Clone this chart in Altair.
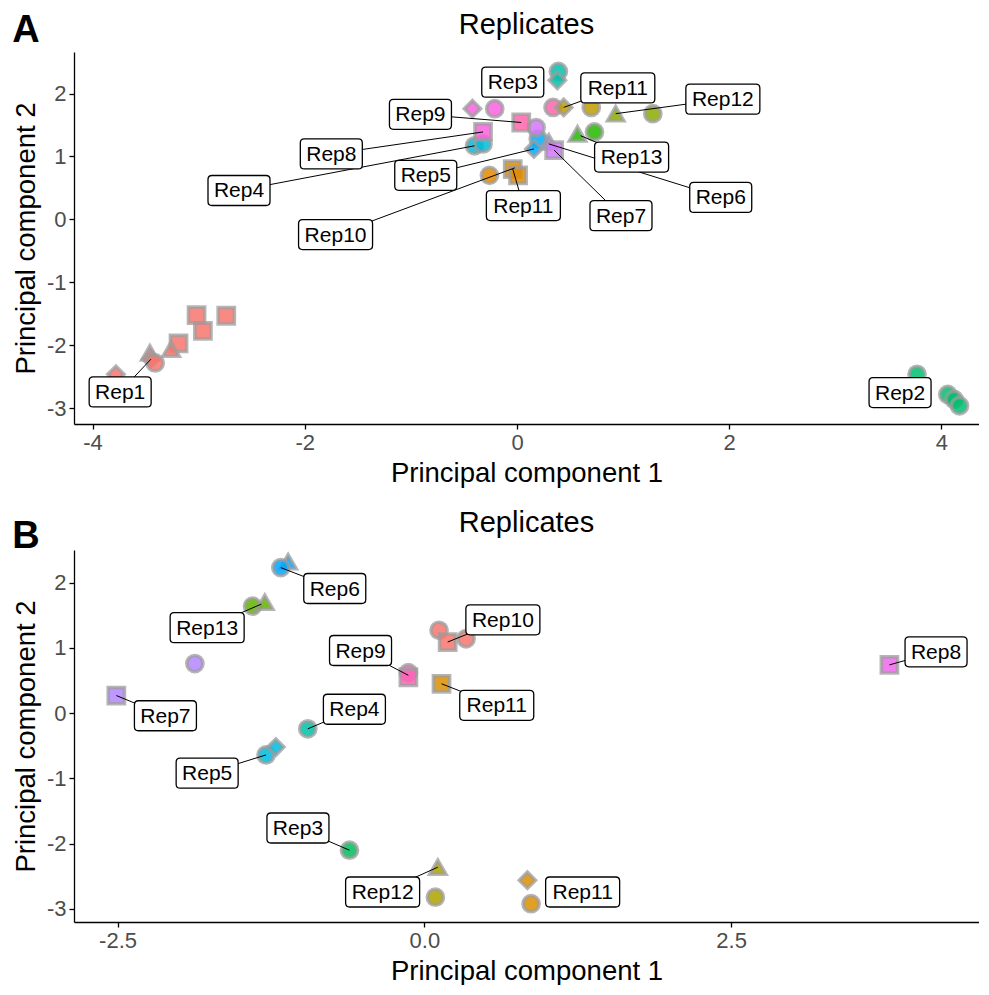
import altair as alt
import pandas as pd

FONT = "Liberation Sans"

# ---------------- Panel A data ----------------
a_rep = ["Rep1"] * 9 + ["Rep2"] * 4 + ["Rep3", "Rep3", "Rep4", "Rep4", "Rep5", "Rep5", "Rep6",
         "Rep7", "Rep7", "Rep8", "Rep8", "Rep8", "Rep9", "Rep9", "Rep10", "Rep10", "Rep10",
         "Rep11", "Rep11", "Rep12", "Rep12", "Rep13", "Rep13"]
a_shape = ["square", "square", "square", "square", "triangle-up", "triangle-up", "diamond", "circle", "diamond",
           "circle", "circle", "circle", "circle",
           "circle", "diamond", "circle", "circle", "circle", "diamond", "triangle-up",
           "circle", "square", "diamond", "circle", "square", "square", "circle", "circle", "square", "square",
           "diamond", "circle", "triangle-up", "circle", "triangle-up", "circle"]
a_x = [-3.02, -2.74, -2.96, -3.19, -3.26, -3.46, -3.45, -3.41, -3.78,
       3.77, 4.06, 4.12, 4.17,
       0.39, 0.38, -0.40, -0.32, 0.20, 0.16, 0.30,
       0.18, 0.35, -0.42, -0.21, -0.32, 0.04, 0.34, -0.26, -0.04, 0.01,
       0.44, 0.70, 0.93, 1.28, 0.57, 0.73]
a_y = [-1.52, -1.53, -1.77, -1.97, -2.06, -2.12, -2.22, -2.28, -2.46,
       -2.46, -2.78, -2.86, -2.96,
       2.35, 2.21, 1.17, 1.20, 1.28, 1.12, 1.23,
       1.46, 1.10, 1.76, 1.76, 1.39, 1.54, 1.78, 0.70, 0.80, 0.70,
       1.78, 1.78, 1.68, 1.68, 1.36, 1.39]

a_lab = ["Rep3", "Rep11", "Rep12", "Rep9", "Rep8", "Rep5", "Rep13", "Rep4",
         "Rep11", "Rep7", "Rep6", "Rep10", "Rep1", "Rep2"]
a_lab_x = [-0.04, 0.95, 1.94, -0.91, -1.75, -0.86, 1.08, -2.62, 0.06, 0.98, 1.92, -1.71, -3.74, 3.61]
a_lab_y = [2.18, 2.09, 1.91, 1.67, 1.04, 0.70, 0.99, 0.46, 0.22, 0.06, 0.35, -0.24, -2.74, -2.75]
a_tgt_x = [-0.04, 0.44, 0.93, 0.04, -0.32, 0.16, 0.60, -0.40, -0.04, 0.35, 0.30, -0.02, -3.45, 3.61]
a_tgt_y = [2.18, 1.78, 1.68, 1.54, 1.39, 1.12, 1.33, 1.17, 0.80, 1.10, 1.20, 0.82, -2.22, -2.75]

a_levels = ["Rep1", "Rep10", "Rep11", "Rep12", "Rep13", "Rep2", "Rep3",
            "Rep4", "Rep5", "Rep6", "Rep7", "Rep8", "Rep9"]
a_colors = ["#F8766D", "#E18A00", "#BE9C00", "#8CAB00", "#24B700", "#00BE70", "#00C1AB",
            "#00BBDA", "#00ACFC", "#8B93FF", "#D575FE", "#F962DD", "#FF65AC"]

# ---------------- Panel B data ----------------
b_rep = ["Rep10", "Rep10", "Rep10", "Rep11", "Rep11", "Rep11", "Rep12", "Rep12",
         "Rep13", "Rep13", "Rep3", "Rep4", "Rep5", "Rep5", "Rep6", "Rep6",
         "Rep7", "Rep7", "Rep8", "Rep9", "Rep9"]
b_shape = ["circle", "circle", "square", "square", "diamond", "circle", "triangle-up", "circle",
           "circle", "triangle-up", "circle", "circle", "circle", "diamond", "triangle-up", "circle",
           "circle", "square", "square", "circle", "square"]
b_x = [0.12, 0.34, 0.19, 0.14, 0.84, 0.87, 0.11, 0.09,
       -1.40, -1.30, -0.61, -0.95, -1.29, -1.21, -1.11, -1.17,
       -1.87, -2.51, 3.79, -0.13, -0.13]
b_y = [1.27, 1.14, 1.09, 0.45, -2.56, -2.92, -2.36, -2.82,
       1.64, 1.70, -2.10, -0.24, -0.64, -0.52, 2.32, 2.23,
       0.76, 0.27, 0.74, 0.62, 0.55]

b_lab = ["Rep6", "Rep13", "Rep10", "Rep9", "Rep7", "Rep4", "Rep11", "Rep8",
         "Rep5", "Rep3", "Rep12", "Rep11"]
b_lab_x = [-0.73, -1.77, 0.64, -0.52, -2.11, -0.57, 0.59, 4.17, -1.77, -1.03, -0.34, 1.29]
b_lab_y = [1.91, 1.31, 1.43, 0.96, -0.04, 0.06, 0.12, 0.94, -0.92, -1.76, -2.74, -2.74]
b_tgt_x = [-1.17, -1.33, 0.19, -0.13, -2.51, -0.95, 0.14, 3.79, -1.29, -0.61, 0.11, 1.29]
b_tgt_y = [2.23, 1.67, 1.09, 0.58, 0.27, -0.24, 0.45, 0.74, -0.64, -2.10, -2.36, -2.74]

b_levels = ["Rep10", "Rep11", "Rep12", "Rep13", "Rep3", "Rep4",
            "Rep5", "Rep6", "Rep7", "Rep8", "Rep9"]
b_colors = ["#F8766D", "#DB8E00", "#AEA200", "#64B200", "#00BD5C", "#00C1A7",
            "#00BADE", "#00A6FF", "#B385FF", "#EF67EB", "#FF63B6"]

y_ticks = [-3, -2, -1, 0, 1, 2]
panel_title = "Replicates"

# rounded label boxes (custom symbol paths, drawn at size 4 => 1 unit = 1 px)
BOX4 = ("M-27,-15 L27,-15 Q31,-15 31,-11 L31,11 Q31,15 27,15 L-27,15 "
        "Q-31,15 -31,11 L-31,-11 Q-31,-15 -27,-15 Z")
BOX5 = ("M-33,-15 L33,-15 Q37,-15 37,-11 L37,11 Q37,15 33,15 L-33,15 "
        "Q-37,15 -37,11 L-37,-11 Q-37,-15 -33,-15 Z")

MINUS = "\u2212"
W, H = 905, 372


def panel(rep, shape, xs_, ys_, lab, lx, ly, tx, ty, levels, colors,
          xdom, ydom, xticks, xfmt, letter, letter_y):
    pts = pd.DataFrame({"rep": rep, "shape": shape, "x": xs_, "y": ys_})
    labs = pd.DataFrame({"label": lab, "lx": lx, "ly": ly, "tx": tx, "ty": ty})
    xsc = alt.Scale(domain=xdom, nice=False, zero=False)
    ysc = alt.Scale(domain=ydom, nice=False, zero=False)
    xax = alt.Axis(values=xticks, title="Principal component 1",
                   labelExpr=f"replace(format(datum.value, '{xfmt}'), '{MINUS}', '-')")
    yax = alt.Axis(values=y_ticks, title="Principal component 2",
                   labelExpr=f"replace(format(datum.value, 'd'), '{MINUS}', '-')")

    points = alt.Chart(pts).mark_point(
        filled=True, size=265, fillOpacity=0.85, stroke="#9c9c9c",
        strokeWidth=3.5, strokeOpacity=0.75, opacity=1
    ).encode(
        x=alt.X("x:Q", scale=xsc, axis=xax),
        y=alt.Y("y:Q", scale=ysc, axis=yax),
        fill=alt.Fill("rep:N", scale=alt.Scale(domain=levels, range=colors), legend=None),
        shape=alt.Shape("shape:N", scale=None),
    )
    lines = alt.Chart(labs).mark_rule(color="black", strokeWidth=1).encode(
        x=alt.X("tx:Q", scale=xsc, axis=xax),
        y=alt.Y("ty:Q", scale=ysc, axis=yax),
        x2="lx:Q", y2="ly:Q",
    )
    box4 = alt.Chart(labs).transform_filter("length(datum.label) <= 4").mark_point(
        shape=BOX4, size=4, filled=True, fill="white", fillOpacity=1,
        stroke="black", strokeWidth=1.3, opacity=1
    ).encode(x=alt.X("lx:Q", scale=xsc, axis=xax), y=alt.Y("ly:Q", scale=ysc, axis=yax))
    box5 = alt.Chart(labs).transform_filter("length(datum.label) > 4").mark_point(
        shape=BOX5, size=4, filled=True, fill="white", fillOpacity=1,
        stroke="black", strokeWidth=1.3, opacity=1
    ).encode(x=alt.X("lx:Q", scale=xsc, axis=xax), y=alt.Y("ly:Q", scale=ysc, axis=yax))
    texts = alt.Chart(labs).mark_text(
        font=FONT, fontSize=21, color="black", align="center", baseline="middle", dy=1
    ).encode(x=alt.X("lx:Q", scale=xsc, axis=xax), y=alt.Y("ly:Q", scale=ysc, axis=yax),
             text="label:N")
    let = alt.Chart(pd.DataFrame({"t": [letter]})).mark_text(
        font=FONT, fontSize=38, fontWeight="bold", color="black",
        align="center", baseline="middle"
    ).encode(x=alt.value(-48), y=alt.value(letter_y), text="t:N")
    ttl = alt.Chart(pd.DataFrame({"t": [panel_title]})).mark_text(
        font=FONT, fontSize=29, color="black", align="center", baseline="middle"
    ).encode(x=alt.value(W / 2), y=alt.value(-27), text="t:N")

    return alt.layer(points, lines, box4, box5, texts, let, ttl).properties(width=W, height=H)


pa = panel(a_rep, a_shape, a_x, a_y, a_lab, a_lab_x, a_lab_y, a_tgt_x, a_tgt_y,
           a_levels, a_colors, [-4.175, 4.354], [-3.25, 2.66], [-4, -2, 0, 2, 4], "d", "A", -21)
pb = panel(b_rep, b_shape, b_x, b_y, b_lab, b_lab_x, b_lab_y, b_tgt_x, b_tgt_y,
           b_levels, b_colors, [-2.855, 4.52], [-3.20, 2.50], [-2.5, 0, 2.5], ".1f", "B", -13)

chart = alt.vconcat(pa, pb, spacing=22).resolve_scale(
    x="independent", y="independent", fill="independent"
).properties(
    padding={"left": 4, "top": 3, "right": 0, "bottom": 0}
).configure_view(stroke=None).configure_axis(
    grid=False, domainColor="black", domainWidth=1.3, tickColor="black", tickWidth=1.3,
    tickSize=5, labelColor="#4D4D4D", labelFontSize=22, labelFont=FONT, labelPadding=3,
    titleFont=FONT, titleFontSize=27.5, titleFontWeight="normal", titleColor="black",
).configure_axisX(titlePadding=6).configure_axisY(titlePadding=6)

chart.save("out.html", embed_options={"renderer": "svg", "actions": False})
